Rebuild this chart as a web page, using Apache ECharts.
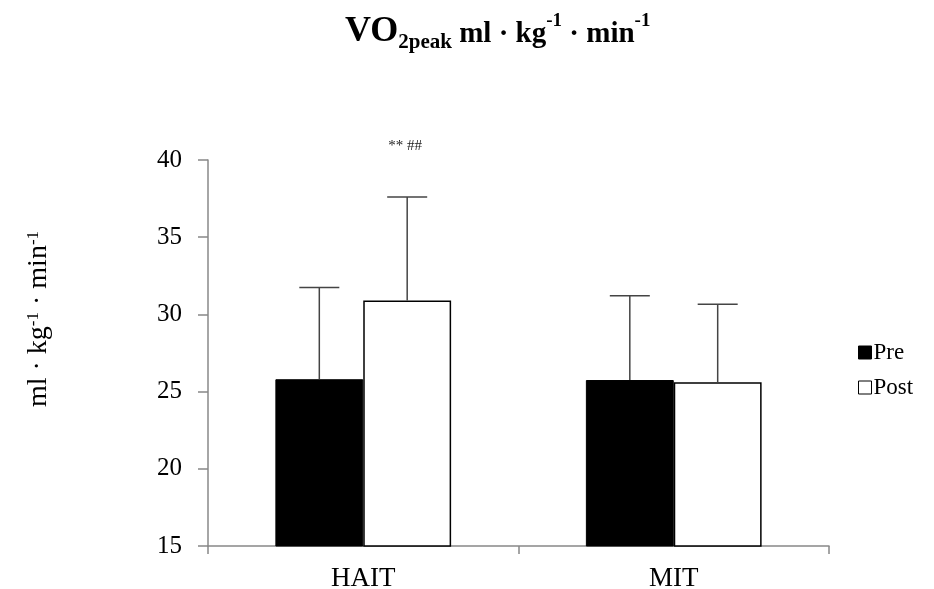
<!DOCTYPE html>
<html>
<head>
<meta charset="utf-8">
<script src="https://cdn.jsdelivr.net/npm/echarts@6/dist/echarts.min.js"></script>
<style>html,body{margin:0;padding:0;background:#fff}#c{width:934px;height:589px}</style>
</head>
<body>
<div id="c"></div>
<script>
var categories = ['HAIT', 'MIT'];
var preMean = [25.8, 25.75];
var preErrTop = [31.75, 31.2];
var postMean = [30.9, 25.6];
var postErrTop = [37.6, 30.65];
var postNotes = ['** ##', ''];
var yTicks = [15, 20, 25, 30, 35, 40];

var FONT = '"Liberation Serif", "Times New Roman", serif';
var GAP = 0.434;

function errSeries(name, means, tops, sign, notes) {
  var data = means.map(function (m, i) { return [i, m, tops[i]]; });
  return {
    type: 'custom',
    name: name + ' err',
    z: 5,
    data: data,
    renderItem: function (params, api) {
      var i = api.value(0);
      var band = api.size([1, 0])[0];
      var bw = band * (1 - GAP) / 2;
      var c = api.coord([i, api.value(1)]);
      var t = api.coord([i, api.value(2)]);
      var x = c[0] + sign * bw / 2;
      var cap = 40;
      var children = [
        { type: 'line', shape: { x1: x, y1: c[1], x2: x, y2: t[1] }, style: { stroke: '#444', lineWidth: 1.5 } },
        { type: 'line', shape: { x1: x - cap / 2, y1: t[1], x2: x + cap / 2, y2: t[1] }, style: { stroke: '#444', lineWidth: 1.5 } }
      ];
      if (notes && notes[i]) {
        children.push({ type: 'text', x: x - 2, y: t[1] - 51, style: { text: notes[i], fill: '#222', font: '15px ' + FONT, align: 'center', verticalAlign: 'middle' } });
      }
      return { type: 'group', children: children };
    }
  };
}

var chart = echarts.init(document.getElementById('c'), null, { renderer: 'canvas' });
chart.setOption({
  backgroundColor: '#fff',
  animation: false,
  title: {
    text: '{b|VO}{sub|2peak}{m| ml · kg}{sup|-1}{m| · min}{sup|-1}',
    left: 340,
    top: 6,
    textStyle: {
      rich: {
        b: { fontFamily: FONT, fontWeight: 'bold', fontSize: 36, color: '#000', lineHeight: 42, verticalAlign: 'middle' },
        m: { fontFamily: FONT, fontWeight: 'bold', fontSize: 29, color: '#000', lineHeight: 42, verticalAlign: 'middle', padding: [6, 0, 0, 0] },
        sub: { fontFamily: FONT, fontWeight: 'bold', fontSize: 21, color: '#000', lineHeight: 21, verticalAlign: 'bottom' },
        sup: { fontFamily: FONT, fontWeight: 'bold', fontSize: 19, color: '#000', lineHeight: 19, verticalAlign: 'top', padding: [1, 0, 0, 0] }
      }
    }
  },
  legend: {
    orient: 'vertical',
    left: 853,
    top: 336,
    itemGap: 12,
    itemWidth: 13,
    itemHeight: 13,
    icon: 'rect',
    textStyle: { fontFamily: FONT, fontSize: 23, color: '#000', padding: [0, 0, 0, -3] },
    data: [
      { name: 'Pre', itemStyle: { color: '#000', borderColor: '#000', borderWidth: 1 } },
      { name: 'Post', itemStyle: { color: '#fff', borderColor: '#000', borderWidth: 1 } }
    ]
  },
  grid: { left: 208, right: 105, top: 160, bottom: 43, containLabel: false, outerBoundsMode: 'none' },
  xAxis: {
    type: 'category',
    data: categories,
    axisLine: { lineStyle: { color: '#888', width: 1.5 } },
    axisTick: { show: true, length: 8, lineStyle: { color: '#888', width: 1.5 } },
    axisLabel: { fontFamily: FONT, fontSize: 27, color: '#000', margin: 19 },
    splitLine: { show: false }
  },
  yAxis: {
    type: 'value',
    min: 15, max: 40, interval: 5,
    name: 'ml · kg{sup|-1} · min{sup|-1}',
    nameLocation: 'middle',
    nameGap: 155,
    nameRotate: 90,
    nameTextStyle: {
      fontFamily: FONT, fontSize: 28, color: '#000',
      padding: [0, 0, 0, 68],
      rich: { sup: { fontFamily: FONT, fontSize: 17, color: '#000', verticalAlign: 'top', lineHeight: 17 } }
    },
    axisLine: { show: true, lineStyle: { color: '#888', width: 1.5 } },
    axisTick: { show: true, length: 10, lineStyle: { color: '#888', width: 1.5 } },
    axisLabel: { fontFamily: FONT, fontSize: 25, color: '#000', margin: 26, customValues: yTicks },
    splitLine: { show: false }
  },
  series: [
    { type: 'bar', name: 'Pre', data: preMean, barGap: '0%', barCategoryGap: (GAP * 100) + '%', itemStyle: { color: '#000', borderColor: '#000', borderWidth: 1 } },
    { type: 'bar', name: 'Post', data: postMean, barGap: '0%', barCategoryGap: (GAP * 100) + '%', itemStyle: { color: '#fff', borderColor: '#000', borderWidth: 1.5 } },
    errSeries('Pre', preMean, preErrTop, -1, null),
    errSeries('Post', postMean, postErrTop, 1, postNotes)
  ]
});
</script>
</body>
</html>
